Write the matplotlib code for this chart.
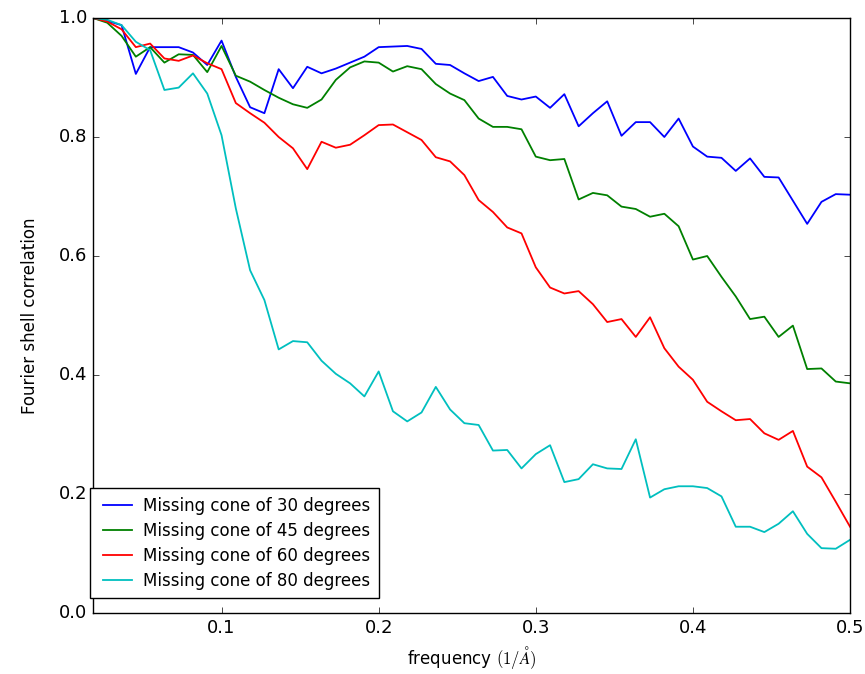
import numpy as np
import matplotlib
matplotlib.use("Agg")
import matplotlib.pyplot as plt

# shell index / box size (110 px at 1 A/px)
shells = np.arange(2, 56)
freq = shells / 110.0

fsc_30 = [1.0, 0.995, 0.988, 0.906, 0.951, 0.951, 0.951, 0.942, 0.921, 0.962,
          0.901, 0.850, 0.840, 0.914, 0.882, 0.918, 0.907, 0.915, 0.925, 0.935,
          0.951, 0.952, 0.953, 0.948, 0.923, 0.921, 0.907, 0.894, 0.901, 0.869,
          0.863, 0.868, 0.849, 0.872, 0.818, 0.840, 0.860, 0.802, 0.825, 0.825,
          0.800, 0.831, 0.784, 0.767, 0.765, 0.743, 0.764, 0.733, 0.732, 0.693,
          0.654, 0.691, 0.704, 0.703]

fsc_45 = [1.0, 0.992, 0.970, 0.935, 0.951, 0.925, 0.939, 0.938, 0.909, 0.953,
          0.903, 0.893, 0.879, 0.866, 0.855, 0.849, 0.863, 0.896, 0.917, 0.927,
          0.925, 0.910, 0.919, 0.914, 0.889, 0.873, 0.862, 0.831, 0.817, 0.817,
          0.813, 0.767, 0.761, 0.763, 0.695, 0.706, 0.702, 0.683, 0.679, 0.666,
          0.671, 0.650, 0.594, 0.600, 0.565, 0.532, 0.494, 0.498, 0.464, 0.483,
          0.410, 0.411, 0.389, 0.386]

fsc_60 = [1.0, 0.994, 0.981, 0.951, 0.957, 0.932, 0.928, 0.937, 0.924, 0.914,
          0.857, 0.840, 0.824, 0.800, 0.781, 0.746, 0.792, 0.782, 0.787, 0.803,
          0.820, 0.821, 0.808, 0.795, 0.766, 0.759, 0.736, 0.694, 0.674, 0.648,
          0.638, 0.581, 0.547, 0.537, 0.541, 0.519, 0.489, 0.494, 0.464, 0.497,
          0.445, 0.414, 0.392, 0.355, 0.339, 0.324, 0.326, 0.302, 0.291, 0.306,
          0.246, 0.228, 0.187, 0.145]

fsc_80 = [1.0, 0.997, 0.988, 0.960, 0.946, 0.879, 0.883, 0.907, 0.873, 0.803,
          0.680, 0.576, 0.526, 0.443, 0.457, 0.455, 0.424, 0.402, 0.386, 0.364,
          0.406, 0.339, 0.322, 0.337, 0.380, 0.342, 0.319, 0.316, 0.273, 0.274,
          0.243, 0.267, 0.282, 0.220, 0.225, 0.250, 0.243, 0.242, 0.292, 0.194,
          0.208, 0.213, 0.213, 0.210, 0.196, 0.145, 0.145, 0.136, 0.150, 0.171,
          0.133, 0.109, 0.108, 0.123]

labels = ["Missing cone of 30 degrees", "Missing cone of 45 degrees",
          "Missing cone of 60 degrees", "Missing cone of 80 degrees"]

plt.style.use("classic")
fig = plt.figure(figsize=(8.65, 6.74), dpi=100, facecolor="white")
ax = fig.add_axes([0.1075, 0.0905, 0.8752, 0.8828])

lw = 1.3
ax.plot(freq, fsc_30, color="b", lw=lw, label=labels[0])
ax.plot(freq, fsc_45, color="g", lw=lw, label=labels[1])
ax.plot(freq, fsc_60, color="r", lw=lw, label=labels[2])
ax.plot(freq, fsc_80, color="c", lw=lw, label=labels[3])

ax.set_xlim(freq[0], freq[-1])
ax.set_ylim(0.0, 1.0)
ax.set_xticks([0.1, 0.2, 0.3, 0.4, 0.5])
ax.set_yticks([0.0, 0.2, 0.4, 0.6, 0.8, 1.0])
ax.tick_params(labelsize=13)
ax.set_xlabel(r"frequency $(1/\AA)$", fontsize=12)
ax.set_ylabel("Fourier shell correlation", fontsize=12, labelpad=14)
ax.legend(loc="lower left", bbox_to_anchor=(-0.004, 0.025), borderaxespad=0,
          fontsize=12, handlelength=2.3, handletextpad=0.4, labelspacing=0.42,
          borderpad=0.5)

fig.savefig("out.png", dpi=100, facecolor="white")
